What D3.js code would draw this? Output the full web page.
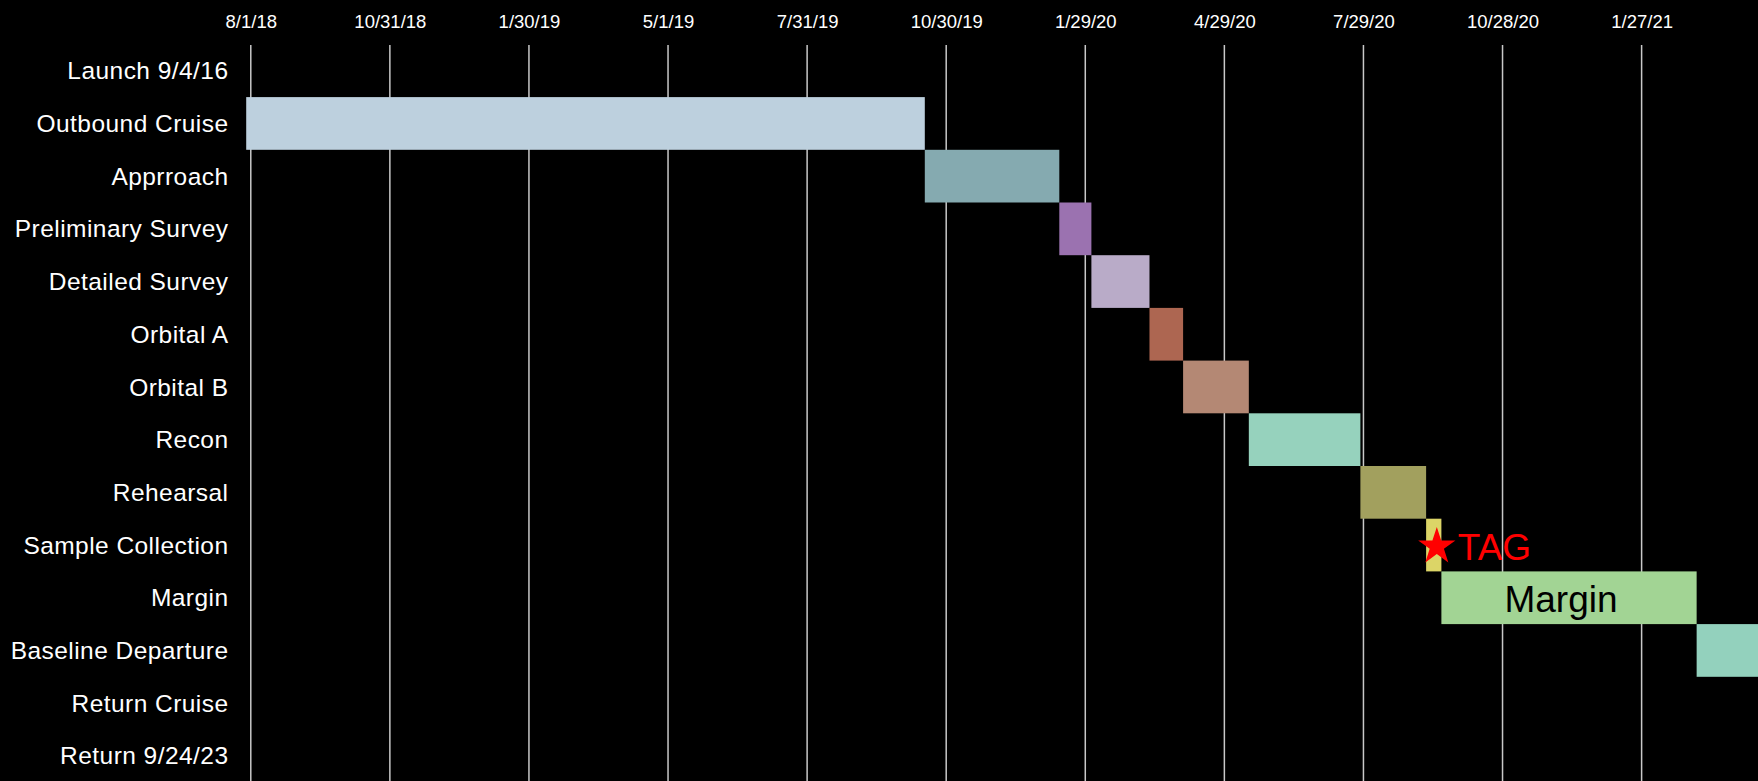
<!DOCTYPE html>
<html>
<head>
<meta charset="utf-8">
<script src="https://cdn.jsdelivr.net/npm/d3@7"></script>
<style>
  html, body { margin: 0; padding: 0; background: #000; }
  svg { display: block; }
  text { font-family: "Liberation Sans", Arial, sans-serif; }
</style>
</head>
<body>
<svg id="chart" width="1758" height="781"></svg>
<script>
// ---- data ----
const categories = ["Launch 9/4/16", "Outbound Cruise", "Apprroach", "Preliminary Survey",
  "Detailed Survey", "Orbital A", "Orbital B", "Recon", "Rehearsal", "Sample Collection",
  "Margin", "Baseline Departure", "Return Cruise", "Return 9/24/23"];
const taskNames  = ["Outbound Cruise", "Apprroach", "Preliminary Survey", "Detailed Survey",
  "Orbital A", "Orbital B", "Recon", "Rehearsal", "Sample Collection", "Margin", "Baseline Departure"];
const taskStarts = ["2016-09-04", "2019-10-16", "2020-01-12", "2020-02-02", "2020-03-11",
  "2020-04-02", "2020-05-15", "2020-07-27", "2020-09-08", "2020-09-18", "2021-03-04"];
const taskEnds   = ["2019-10-16", "2020-01-12", "2020-02-02", "2020-03-11", "2020-04-02",
  "2020-05-15", "2020-07-27", "2020-09-08", "2020-09-18", "2021-03-04", "2021-06-30"];
const taskColors = ["#bdd0de", "#85aab0", "#9b72b0", "#b9abc8", "#ad6651", "#b48874",
  "#96d2bd", "#a2a05e", "#dcd567", "#a2d494", "#93d1bd"];
const tickDates  = ["2018-08-01", "2018-10-31", "2019-01-30", "2019-05-01", "2019-07-31",
  "2019-10-30", "2020-01-29", "2020-04-29", "2020-07-29", "2020-10-28", "2021-01-27"];
const tickLabels = ["8/1/18", "10/31/18", "1/30/19", "5/1/19", "7/31/19", "10/30/19",
  "1/29/20", "4/29/20", "7/29/20", "10/28/20", "1/27/21"];
const axisStart = "2018-07-29";
const axisEnd   = "2021-04-14";
const tagDate = "2020-09-15";
const tagRow = "Sample Collection";
const tagLabel = "TAG";
const marginLabel = "Margin";

// ---- setup ----
const parse = d3.utcParse("%Y-%m-%d");
const W = 1758, H = 781;
const svg = d3.select("#chart");
svg.append("rect").attr("width", W).attr("height", H).attr("fill", "#000");

const x = d3.scaleUtc()
  .domain([parse(axisStart), parse(axisEnd)])
  .range([246.2, 1759.3]);

const y = d3.scaleBand()
  .domain(categories)
  .range([44.4, 44.4 + 52.7 * categories.length])
  .padding(0);

// clip for plot area
svg.append("clipPath").attr("id", "plotclip")
  .append("rect").attr("x", x.range()[0]).attr("y", 0)
  .attr("width", W - x.range()[0]).attr("height", H);

// gridlines + top labels via axis
const ticks = tickDates.map(parse);
const xAxis = d3.axisTop(x)
  .tickValues(ticks)
  .tickSize(0)
  .tickFormat((d, i) => tickLabels[i]);

const gAxis = svg.append("g").attr("transform", "translate(0,21.5)").call(xAxis);
gAxis.select(".domain").remove();
gAxis.selectAll("text")
  .attr("fill", "#fff")
  .attr("font-size", "18.5px")
  .attr("dy", "0.35em")
  .attr("y", 0);

svg.append("g").selectAll("line")
  .data(ticks)
  .join("line")
  .attr("x1", d => x(d)).attr("x2", d => x(d))
  .attr("y1", 45).attr("y2", H)
  .attr("stroke", "#c8c8c8")
  .attr("stroke-width", 1.5);

// bars
const tasks = taskNames.map((n, i) => ({
  name: n, start: parse(taskStarts[i]), end: parse(taskEnds[i]), color: taskColors[i]
}));

svg.append("g").attr("clip-path", "url(#plotclip)")
  .selectAll("rect")
  .data(tasks)
  .join("rect")
  .attr("x", d => x(d.start))
  .attr("y", d => y(d.name))
  .attr("width", d => x(d.end) - x(d.start))
  .attr("height", y.bandwidth())
  .attr("fill", d => d.color);

// category labels
svg.append("g").selectAll("text")
  .data(categories)
  .join("text")
  .attr("x", 228.5)
  .attr("y", d => y(d) + y.bandwidth() / 2)
  .attr("dy", "0.35em")
  .attr("text-anchor", "end")
  .attr("fill", "#fff")
  .attr("font-size", "24.5px")
  .attr("letter-spacing", "0.45px")
  .text(d => d);

// Margin label inside bar
const mTask = tasks.find(t => t.name === "Margin");
svg.append("text")
  .attr("x", (x(mTask.start) + x(mTask.end)) / 2 - 8)
  .attr("y", y("Margin") + y.bandwidth() / 2)
  .attr("dy", "0.38em")
  .attr("text-anchor", "middle")
  .attr("fill", "#000")
  .attr("font-size", "37px")
  .text(marginLabel);

// TAG star + label
const ty = y(tagRow) + y.bandwidth() / 2 + 1.5;
svg.append("path")
  .attr("d", d3.symbol(d3.symbolStar).size(430)())
  .attr("transform", `translate(${x(parse(tagDate))},${ty})`)
  .attr("fill", "#ff0000");
svg.append("text")
  .attr("x", x(parse(tagDate)) + 21)
  .attr("y", ty)
  .attr("dy", "0.36em")
  .attr("fill", "#ff0000")
  .attr("font-size", "37px")
  .text(tagLabel);
</script>
</body>
</html>
